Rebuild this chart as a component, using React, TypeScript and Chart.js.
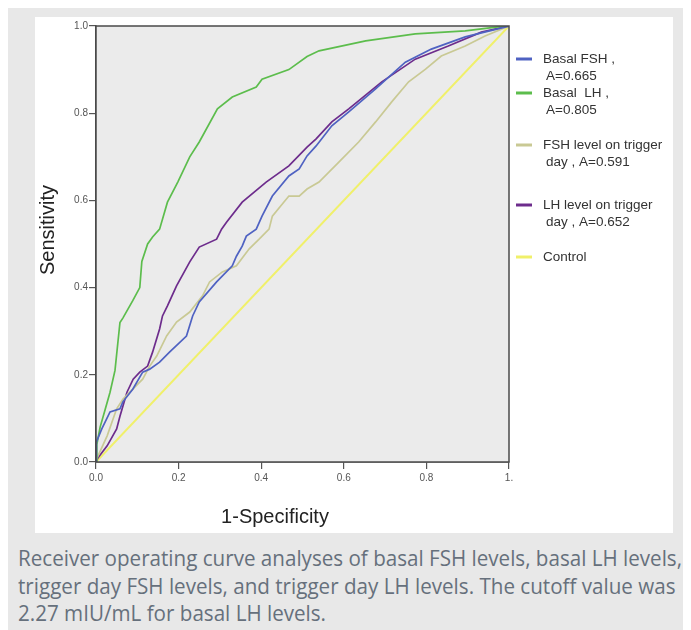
import React, { useEffect, useRef } from "react";
import { Chart, registerables } from "chart.js";

Chart.register(...registerables);

const basalFshX = [0, 0, 0.002, 0.014, 0.034, 0.058, 0.065, 0.089, 0.113, 0.13, 0.154, 0.178, 0.219, 0.234, 0.25, 0.292, 0.33, 0.34, 0.354, 0.364, 0.388, 0.402, 0.427, 0.467, 0.492, 0.511, 0.533, 0.571, 0.612, 0.677, 0.749, 0.812, 0.894, 1];
const basalFshY = [0, 0.03, 0.046, 0.076, 0.115, 0.122, 0.138, 0.167, 0.206, 0.213, 0.229, 0.252, 0.289, 0.335, 0.367, 0.413, 0.45, 0.472, 0.495, 0.518, 0.534, 0.564, 0.61, 0.656, 0.672, 0.702, 0.725, 0.771, 0.803, 0.856, 0.917, 0.947, 0.975, 1];

const basalLhX = [0, 0.002, 0.01, 0.022, 0.034, 0.046, 0.058, 0.065, 0.089, 0.106, 0.111, 0.125, 0.137, 0.154, 0.173, 0.198, 0.227, 0.25, 0.294, 0.33, 0.388, 0.402, 0.467, 0.511, 0.54, 0.653, 0.773, 0.894, 0.973, 1];
const basalLhY = [0, 0.04, 0.08, 0.12, 0.16, 0.21, 0.32, 0.33, 0.37, 0.4, 0.46, 0.5, 0.516, 0.534, 0.596, 0.642, 0.7, 0.734, 0.81, 0.837, 0.86, 0.878, 0.9, 0.93, 0.943, 0.966, 0.982, 0.989, 0.998, 1];

const fshTriggerX = [0, 0.003, 0.027, 0.05, 0.065, 0.089, 0.113, 0.13, 0.147, 0.171, 0.195, 0.227, 0.258, 0.275, 0.306, 0.34, 0.371, 0.395, 0.419, 0.427, 0.467, 0.492, 0.511, 0.54, 0.588, 0.636, 0.677, 0.716, 0.757, 0.798, 0.836, 0.894, 0.942, 1];
const fshTriggerY = [0, 0.01, 0.06, 0.122, 0.144, 0.167, 0.19, 0.22, 0.243, 0.289, 0.321, 0.344, 0.381, 0.413, 0.436, 0.45, 0.489, 0.511, 0.534, 0.564, 0.61, 0.61, 0.626, 0.642, 0.688, 0.734, 0.78, 0.826, 0.872, 0.901, 0.931, 0.954, 0.977, 1];

const lhTriggerX = [0, 0.005, 0.027, 0.05, 0.058, 0.075, 0.09, 0.106, 0.125, 0.137, 0.154, 0.161, 0.173, 0.195, 0.227, 0.25, 0.292, 0.304, 0.316, 0.354, 0.412, 0.467, 0.511, 0.533, 0.571, 0.612, 0.692, 0.773, 0.853, 0.933, 1];
const lhTriggerY = [0, 0.01, 0.037, 0.076, 0.105, 0.16, 0.19, 0.206, 0.22, 0.252, 0.305, 0.335, 0.358, 0.404, 0.459, 0.493, 0.511, 0.534, 0.55, 0.596, 0.642, 0.679, 0.722, 0.741, 0.78, 0.81, 0.872, 0.924, 0.954, 0.986, 1];

const controlX = [0, 1];
const controlY = [0, 1];

const seriesNames = ["Basal FSH", "Basal LH", "FSH level on trigger day", "LH level on trigger day", "Control"];
const legendLines = [
  ["Basal FSH ,", "A=0.665"],
  ["Basal  LH ,", "A=0.805"],
  ["FSH level on trigger", "day , A=0.591"],
  ["LH level on trigger", "day , A=0.652"],
  ["Control"],
];
const seriesColors = ["#4f62c2", "#5cbd4c", "#c9c994", "#6d2c8c", "#f0f06a"];

const xTitle = "1-Specificity";
const yTitle = "Sensitivity";
const caption = [
  "Receiver operating curve analyses of basal FSH levels, basal LH levels,",
  "trigger day FSH levels, and trigger day LH levels. The cutoff value was",
  "2.27 mIU/mL for basal LH levels.",
];

const pts = (xs: number[], ys: number[]) => xs.map((x, i) => ({ x, y: ys[i] }));

const FONT = "'Liberation Sans', Arial, sans-serif";
const CAP_FONT = "'Open Sans', 'Noto Sans', sans-serif";
const CAP_SIZE = 22;

function captionScale(): number {
  try {
    const c = document.createElement("canvas").getContext("2d");
    if (!c) return 0.85;
    c.font = `${CAP_SIZE}px ${CAP_FONT}`;
    const w = c.measureText(caption[0]).width;
    return w > 0 ? 664 / w : 0.85;
  } catch {
    return 0.85;
  }
}

export default function App() {
  const ref = useRef<HTMLCanvasElement>(null);
  const k = captionScale();
  useEffect(() => {
    if (!ref.current) return;
    const decor = {
      id: "decor",
      beforeDatasetsDraw(chart: any) {
        const { ctx, chartArea: a } = chart;
        ctx.save();
        ctx.fillStyle = "#ebebeb";
        ctx.fillRect(a.left, a.top, a.right - a.left, a.bottom - a.top);
        ctx.restore();
      },
      afterDraw(chart: any) {
        const { ctx, chartArea: a } = chart;
        ctx.save();
        ctx.strokeStyle = "#4a4a4a";
        ctx.lineWidth = 1.5;
        ctx.strokeRect(a.left, a.top, a.right - a.left, a.bottom - a.top);
        ctx.fillStyle = "#222";
        ctx.font = `20px ${FONT}`;
        ctx.textAlign = "center";
        ctx.textBaseline = "middle";
        ctx.fillText(xTitle, 240, 500);
        ctx.save();
        ctx.translate(13, 213);
        ctx.rotate(-Math.PI / 2);
        ctx.fillText(yTitle, 0, 0);
        ctx.restore();
        const rows = [42, 76, 128, 188, 240];
        ctx.font = `13.5px ${FONT}`;
        ctx.textAlign = "left";
        ctx.fillStyle = "#333";
        legendLines.forEach((lines, i) => {
          const y = rows[i];
          ctx.strokeStyle = seriesColors[i];
          ctx.lineWidth = 3;
          ctx.beginPath();
          ctx.moveTo(481, y);
          ctx.lineTo(497, y);
          ctx.stroke();
          ctx.fillText(lines[0], 508, y);
          if (lines[1]) ctx.fillText(lines[1], 511, y + 17);
        });
        ctx.restore();
      },
    };
    const chart = new Chart(ref.current, {
      type: "line",
      data: {
        datasets: [
          { label: seriesNames[0], data: pts(basalFshX, basalFshY) },
          { label: seriesNames[1], data: pts(basalLhX, basalLhY) },
          { label: seriesNames[2], data: pts(fshTriggerX, fshTriggerY) },
          { label: seriesNames[3], data: pts(lhTriggerX, lhTriggerY) },
          { label: seriesNames[4], data: pts(controlX, controlY) },
        ].map((d, i) => ({
          ...d,
          borderColor: seriesColors[i],
          backgroundColor: seriesColors[i],
          borderWidth: i === 4 ? 2 : 1.7,
          pointRadius: 0,
          tension: 0,
          fill: false,
        })),
      },
      options: {
        animation: false,
        responsive: false,
        devicePixelRatio: 1,
        layout: { padding: { top: 9, right: 164, left: 0, bottom: 0 } },
        plugins: { legend: { display: false }, title: { display: false }, tooltip: { enabled: false } },
        scales: {
          x: {
            type: "linear",
            min: 0,
            max: 1,
            afterFit: (s: any) => { s.height = 71; },
            ticks: {
              stepSize: 0.2,
              autoSkip: false,
              maxRotation: 0,
              padding: 3,
              color: "#555",
              font: { size: 10, family: FONT },
              callback: (v: any) => (Math.abs(v - 1) < 1e-9 ? "1." : Number(v).toFixed(1)),
            },
            grid: { drawOnChartArea: false, drawTicks: true, tickLength: 7, color: "#555", lineWidth: 1.2 },
            border: { color: "#4a4a4a", width: 1.5 },
          },
          y: {
            type: "linear",
            min: 0,
            max: 1,
            afterFit: (s: any) => { s.width = 61; },
            ticks: {
              stepSize: 0.2,
              padding: 1,
              color: "#555",
              font: { size: 10, family: FONT },
              callback: (v: any) => Number(v).toFixed(1),
            },
            grid: { drawOnChartArea: false, drawTicks: true, tickLength: 7, color: "#555", lineWidth: 1.2 },
            border: { color: "#4a4a4a", width: 1.5 },
          },
        },
      },
      plugins: [decor],
    } as any);
    return () => chart.destroy();
  }, []);

  return (
    <div style={{ position: "relative", marginLeft: -8, width: 691, height: 622, background: "#e8e8e8", overflow: "hidden" }}>
      <div style={{ position: "absolute", left: 35, top: 9, width: 638, height: 516, background: "#fff" }}>
        <canvas ref={ref} width={638} height={516} style={{ display: "block", width: 638, height: 516 }} />
      </div>
      <div
        style={{
          position: "absolute",
          left: 18,
          top: 536,
          fontFamily: CAP_FONT,
          fontSize: CAP_SIZE,
          lineHeight: "27.5px",
          color: "#66707c",
          whiteSpace: "nowrap",
        }}
      >
        {caption.map((c, i) => (
          <div key={i}>
            <span style={{ display: "inline-block", transform: `scaleX(${k})`, transformOrigin: "left center" }}>{c}</span>
          </div>
        ))}
      </div>
    </div>
  );
}
